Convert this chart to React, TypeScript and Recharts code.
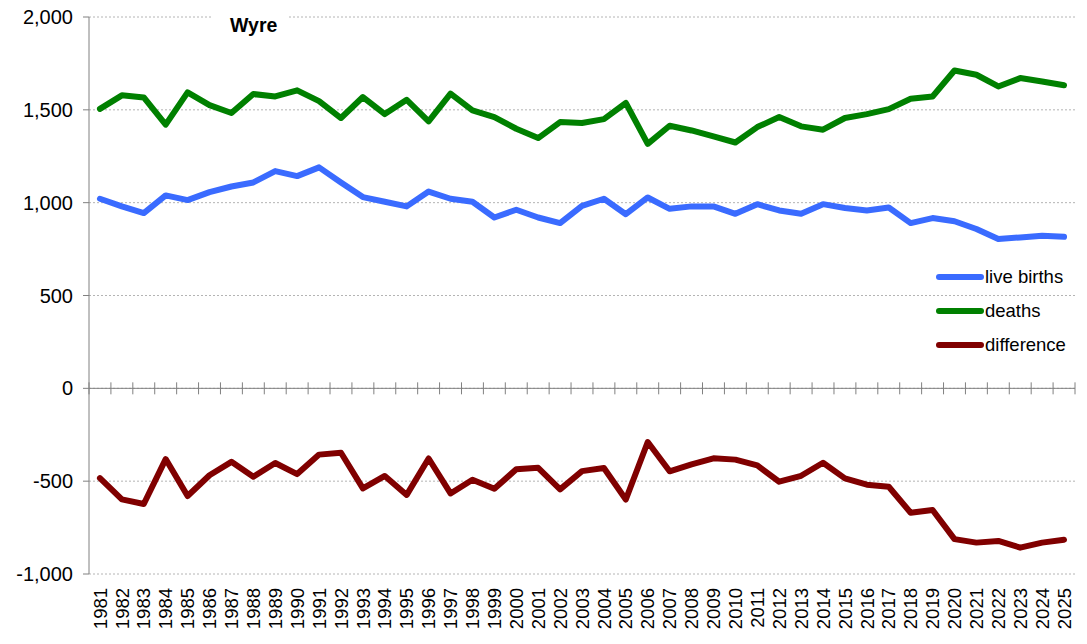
import React from "react";
import {
  LineChart,
  Line,
  XAxis,
  YAxis,
  CartesianGrid,
  ReferenceLine,
  Legend,
} from "recharts";

const YEARS = [
  "1981", "1982", "1983", "1984", "1985", "1986", "1987", "1988", "1989", "1990",
  "1991", "1992", "1993", "1994", "1995", "1996", "1997", "1998", "1999", "2000",
  "2001", "2002", "2003", "2004", "2005", "2006", "2007", "2008", "2009", "2010",
  "2011", "2012", "2013", "2014", "2015", "2016", "2017", "2018", "2019", "2020",
  "2021", "2022", "2023", "2024", "2025",
];

const BIRTHS = [
  1021, 980, 944, 1039, 1014, 1057, 1087, 1109, 1170, 1143,
  1190, 1109, 1030, 1005, 980, 1060, 1021, 1005, 920, 962,
  920, 890, 983, 1021, 938, 1028, 967, 980, 980, 940,
  992, 958, 940, 992, 971, 958, 974, 890, 917, 900,
  858, 804, 813, 822, 816,
];

const DEATHS = [
  1505, 1578, 1567, 1420, 1594, 1525, 1483, 1585, 1572, 1605,
  1547, 1456, 1569, 1477, 1554, 1438, 1587, 1497, 1461, 1398,
  1348, 1434, 1429, 1450, 1537, 1317, 1414, 1389, 1357, 1324,
  1407, 1461, 1411, 1393, 1456, 1477, 1504, 1560, 1572, 1712,
  1689, 1626, 1671, 1653, 1632,
];

const DIFFERENCE = [
  -484, -598, -623, -381, -580, -468, -396, -476, -402, -462,
  -357, -347, -539, -472, -574, -378, -566, -492, -541, -436,
  -428, -544, -446, -429, -599, -289, -447, -409, -377, -384,
  -415, -503, -471, -401, -485, -519, -530, -670, -655, -812,
  -831, -822, -858, -831, -816,
];

const Y_TICKS = [-1000, -500, 0, 500, 1000, 1500, 2000];

const SERIES = [
  { key: "births", name: "live births", color: "#3a6bff" },
  { key: "deaths", name: "deaths", color: "#008000" },
  { key: "difference", name: "difference", color: "#800000" },
];

const data = YEARS.map((year, i) => ({
  year,
  births: BIRTHS[i],
  deaths: DEATHS[i],
  difference: DIFFERENCE[i],
}));

// chart geometry
const W = 1087;
const H = 644;
const M_TOP = 17;
const M_RIGHT = 12;
const Y_AXIS_W = 89;
const X_AXIS_H = 70;
const PLOT_W = W - Y_AXIS_W - M_RIGHT;
const PLOT_H = H - M_TOP - X_AXIS_H;
const Y_MIN = -1000;
const Y_MAX = 2000;
const ZERO_Y = M_TOP + ((Y_MAX - 0) / (Y_MAX - Y_MIN)) * PLOT_H;
const AXIS_GREY = "#808080";
const FONT = "'Liberation Sans', Arial, sans-serif";

const fmt = (v: number) => v.toLocaleString("en-US");

// year label at the bottom + cross tick marks on the zero line between categories
const YearTick = ({ x, payload, index }: any) => {
  const band = PLOT_W / YEARS.length;
  const left = x - band / 2;
  const labelY = M_TOP + PLOT_H + 14;
  return (
    <g>
      <line x1={left} x2={left} y1={ZERO_Y - 6} y2={ZERO_Y + 6} stroke={AXIS_GREY} />
      {index === YEARS.length - 1 && (
        <line x1={x + band / 2} x2={x + band / 2} y1={ZERO_Y - 6} y2={ZERO_Y + 6} stroke={AXIS_GREY} />
      )}
      <text
        x={x}
        y={labelY}
        dy="0.36em"
        transform={`rotate(-90, ${x}, ${labelY})`}
        textAnchor="end"
        fill="#000"
        fontSize={18.5}
        fontFamily={FONT}
      >
        {payload.value}
      </text>
    </g>
  );
};

const LegendBox = () => (
  <div style={{ fontFamily: FONT, fontSize: 18.5, color: "#000" }}>
    {SERIES.map((s) => (
      <div key={s.key} style={{ display: "flex", alignItems: "center", height: 34 }}>
        <svg width={50} height={8} style={{ display: "block" }}>
          <line x1={4} x2={46} y1={4} y2={4} stroke={s.color} strokeWidth={6} strokeLinecap="round" />
        </svg>
        <span style={{ lineHeight: "34px" }}>{s.name}</span>
      </div>
    ))}
  </div>
);

export default function App() {
  return (
    <div style={{ position: "relative", width: W, height: H, margin: -8, background: "#fff" }}>
      <LineChart
        width={W}
        height={H}
        data={data}
        margin={{ top: M_TOP, right: M_RIGHT, bottom: 0, left: 0 }}
      >
        <CartesianGrid vertical={false} stroke="#b4b4b4" strokeDasharray="2 2" />
        <XAxis
          dataKey="year"
          scale="band"
          height={X_AXIS_H}
          interval={0}
          axisLine={false}
          tickLine={false}
          tick={<YearTick />}
        />
        <YAxis
          width={Y_AXIS_W}
          domain={[Y_MIN, Y_MAX]}
          ticks={Y_TICKS}
          tickFormatter={fmt}
          axisLine={{ stroke: AXIS_GREY }}
          tickLine={{ stroke: AXIS_GREY }}
          tickSize={6}
          tickMargin={10}
          tick={{ fill: "#000", fontSize: 20, fontFamily: FONT }}
        />
        <ReferenceLine y={0} stroke={AXIS_GREY} />
        {SERIES.map((s) => (
          <Line
            key={s.key}
            dataKey={s.key}
            name={s.name}
            stroke={s.color}
            strokeWidth={6}
            strokeLinejoin="round"
            strokeLinecap="round"
            dot={false}
            activeDot={false}
            isAnimationActive={false}
          />
        ))}
        <Legend
          layout="vertical"
          align="center"
          verticalAlign="middle"
          content={<LegendBox />}
          wrapperStyle={{ left: 935, top: 260, width: 150 }}
        />
      </LineChart>
      <div
        style={{
          position: "absolute",
          left: 213,
          top: 11,
          width: 75,
          height: 28,
          background: "#fff",
          fontFamily: FONT,
          fontWeight: "bold",
          fontSize: 19.5,
          lineHeight: "28px",
          paddingLeft: 17,
          boxSizing: "border-box",
        }}
      >
        Wyre
      </div>
    </div>
  );
}
